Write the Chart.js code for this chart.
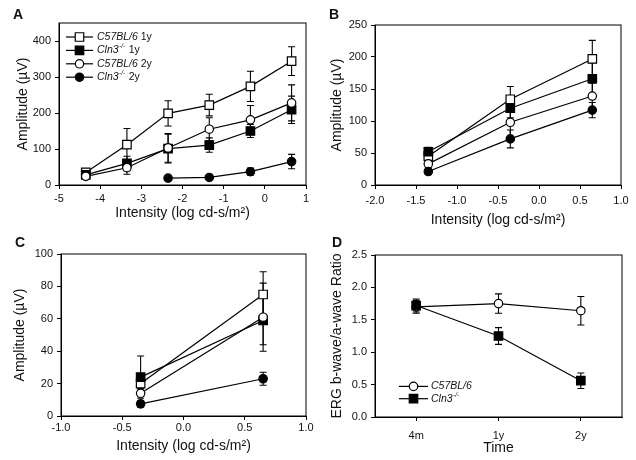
<!DOCTYPE html>
<html>
<head>
<meta charset="utf-8">
<script src="https://cdn.jsdelivr.net/npm/chart.js@4.4.0/dist/chart.umd.min.js"></script>
<style>
  body { margin: 0; background: #fff; }
  #wrap { position: relative; width: 636px; height: 460px; }
  .panel { position: absolute; width: 318px; height: 230px; }
  .tag { position: absolute; font: bold 14px "Liberation Sans", Arial, sans-serif; color: #111; }
</style>
</head>
<body>
<div id="wrap">
  <div class="panel" style="left:0;top:0"><canvas id="chartA" width="318" height="230"></canvas></div>
  <div class="panel" style="left:318px;top:0"><canvas id="chartB" width="318" height="230"></canvas></div>
  <div class="panel" style="left:0;top:230px"><canvas id="chartC" width="318" height="230"></canvas></div>
  <div class="panel" style="left:318px;top:230px"><canvas id="chartD" width="318" height="230"></canvas></div>
  <div class="tag" style="left:13px;top:6px">A</div>
  <div class="tag" style="left:329px;top:6px">B</div>
  <div class="tag" style="left:15px;top:234px">C</div>
  <div class="tag" style="left:332px;top:234px">D</div>
</div>
<script>
'use strict';

// ── Data ─────────────────────────────────────────────────────────────────────
// Panel A
const xA        = [-4.35, -3.35, -2.35, -1.35, -0.35, 0.65];
const wt1yA     = [35, 112, 199, 222, 274, 344];
const wt1yErrA  = [6, 45, 35, 30, 42, 40];
const ko1yA     = [28, 60, 101, 111, 150, 209];
const ko1yErrA  = [5, 20, 40, 20, 18, 38];
const wt2yA     = [24, 48, 103, 155, 181, 228];
const wt2yErrA  = [5, 18, 40, 32, 40, 50];
const ko2yA     = [null, null, 19, 21, 37, 65];
const ko2yErrA  = [0, 0, 4, 4, 10, 20];
const xTicksA   = [-5, -4, -3, -2, -1, 0, 1];
const yTicksA   = [0, 100, 200, 300, 400];

// Panel B
const xB        = [-1.35, -0.35, 0.65];
const wt1yB     = [45, 134, 197];
const wt1yErrB  = [8, 20, 29];
const ko1yB     = [52, 120, 166];
const ko1yErrB  = [7, 15, 25];
const wt2yB     = [33, 98, 139];
const wt2yErrB  = [6, 25, 20];
const ko2yB     = [21, 72, 117];
const ko2yErrB  = [4, 14, 12];
const xTicksB   = [-2.0, -1.5, -1.0, -0.5, 0.0, 0.5, 1.0];
const yTicksB   = [0, 50, 100, 150, 200, 250];

// Panel C
const xC        = [-0.35, 0.65];
const wt1yC     = [20, 75];
const wt1yErrC  = [3, 14];
const ko1yC     = [24, 59];
const ko1yErrC  = [13, 15];
const wt2yC     = [14, 61];
const wt2yErrC  = [2, 21];
const ko2yC     = [7.5, 23];
const ko2yErrC  = [2, 4];
const xTicksC   = [-1.0, -0.5, 0.0, 0.5, 1.0];
const yTicksC   = [0, 20, 40, 60, 80, 100];

// Panel D
const timeLabels = ['4m', '1y', '2y'];
const wtD        = [1.70, 1.75, 1.64];
const wtErrD     = [0.10, 0.15, 0.22];
const koD        = [1.72, 1.25, 0.56];
const koErrD     = [0.10, 0.13, 0.12];
const yTicksD    = [0.0, 0.5, 1.0, 1.5, 2.0, 2.5];

// ── Style ────────────────────────────────────────────────────────────────────
const FONT = '"Liberation Sans", Arial, sans-serif';
const INK  = '#111';

const MARKERS = {
  openSquare:   { pointStyle: 'rect',   pointRadius: 6,   pointBackgroundColor: '#fff' },
  filledSquare: { pointStyle: 'rect',   pointRadius: 6,   pointBackgroundColor: '#000' },
  openCircle:   { pointStyle: 'circle', pointRadius: 4.2, pointBackgroundColor: '#fff' },
  filledCircle: { pointStyle: 'circle', pointRadius: 4.2, pointBackgroundColor: '#000' },
};

let seriesCount = 0;   // later series sit on top, as in SigmaPlot

function series(xs, ys, errs, marker, strain, age) {
  const data = xs
    ? xs.map((x, i) => ({ x, y: ys[i] })).filter(p => p.y !== null)
    : ys;
  const errors = xs ? errs.filter((e, i) => ys[i] !== null) : errs;
  return Object.assign({
    label: strain + (age || ''),
    strain, age, marker,
    data, errors,
    order: 100 - (seriesCount++),
    borderColor: '#000',
    borderWidth: 1.2,
    pointBorderColor: '#000',
    pointBorderWidth: 1.2,
    pointHoverRadius: 0,
  }, MARKERS[marker]);
}

// ── Plugins ──────────────────────────────────────────────────────────────────

/** Vertical error bars with caps, drawn under the markers */
const errorBars = {
  id: 'errorBars',
  beforeDatasetsDraw(chart) {
    const { ctx } = chart;
    const yScale = chart.scales.y;
    ctx.save();
    ctx.strokeStyle = '#000';
    ctx.lineWidth = 1.1;
    chart.data.datasets.forEach((ds, i) => {
      const meta = chart.getDatasetMeta(i);
      meta.data.forEach((pt, j) => {
        const err = ds.errors && ds.errors[j];
        if (!err) return;
        const v  = typeof ds.data[j] === 'object' ? ds.data[j].y : ds.data[j];
        const y1 = yScale.getPixelForValue(v + err);
        const y2 = yScale.getPixelForValue(v - err);
        ctx.beginPath();
        ctx.moveTo(pt.x, y1); ctx.lineTo(pt.x, y2);
        ctx.moveTo(pt.x - 3.5, y1); ctx.lineTo(pt.x + 3.5, y1);
        ctx.moveTo(pt.x - 3.5, y2); ctx.lineTo(pt.x + 3.5, y2);
        ctx.stroke();
      });
    });
    ctx.restore();
  },
};

/** Closed frame round the plot area (SigmaPlot box) */
const frame = {
  id: 'frame',
  afterDraw(chart) {
    const { ctx, chartArea: a } = chart;
    ctx.save();
    ctx.strokeStyle = '#000';
    ctx.lineWidth = 1;
    ctx.strokeRect(a.left, a.top, a.right - a.left, a.bottom - a.top);
    ctx.restore();
  },
};

function drawMarker(ctx, marker, x, y) {
  const m = MARKERS[marker];
  ctx.beginPath();
  if (m.pointStyle === 'rect') {
    const h = m.pointRadius * Math.SQRT1_2;
    ctx.rect(x - h, y - h, 2 * h, 2 * h);
  } else {
    ctx.arc(x, y, m.pointRadius, 0, Math.PI * 2);
  }
  ctx.fillStyle = m.pointBackgroundColor;
  ctx.fill();
  ctx.stroke();
}

function drawStrain(ctx, x, y, strain, age) {
  ctx.fillStyle = INK;
  ctx.textBaseline = 'middle';
  ctx.font = 'italic 10.5px ' + FONT;
  ctx.fillText(strain, x, y);
  x += ctx.measureText(strain).width;
  if (strain === 'Cln3') {
    ctx.font = 'italic 6.5px ' + FONT;
    ctx.fillText('-/-', x + 0.5, y - 4);
    x += ctx.measureText('-/-').width + 1;
  }
  if (age) {
    ctx.font = '10.5px ' + FONT;
    ctx.fillText(age, x, y);
  }
}

/** Legend with italic strain names and superscripts */
const strainLegend = {
  id: 'strainLegend',
  afterDraw(chart, args, opts) {
    if (!opts || !opts.show) return;
    const { ctx, chartArea: a } = chart;
    ctx.save();
    ctx.strokeStyle = '#000';
    ctx.lineWidth = 1.2;
    chart.data.datasets.forEach((ds, i) => {
      const y  = opts.fromBottom ? a.bottom - opts.y + i * opts.gap : a.top + opts.y + i * opts.gap;
      const x0 = a.left + opts.x;
      const x1 = x0 + opts.len;
      ctx.beginPath();
      ctx.moveTo(x0, y); ctx.lineTo(x1, y);
      ctx.stroke();
      drawMarker(ctx, ds.marker, (x0 + x1) / 2, y);
      drawStrain(ctx, x1 + opts.textGap, y, ds.strain, ds.age);
    });
    ctx.restore();
  },
};

// ── Chart builder ────────────────────────────────────────────────────────────
function axisBase(title, titlePad, tickPad) {
  return {
    border:  { display: true, color: '#000', width: 1 },
    grid:    { display: true, drawOnChartArea: false, drawTicks: true, tickLength: 4, color: '#000' },
    ticks:   { color: INK, font: { family: FONT, size: 11 }, padding: tickPad },
    title:   { display: true, text: title, color: INK, font: { family: FONT, size: 14 }, padding: titlePad },
  };
}

function makePanel(id, cfg) {
  const xAxis = axisBase(cfg.xTitle, { top: 0, bottom: cfg.xTitlePad }, cfg.xTickPad);
  const yAxis = axisBase(cfg.yTitle, { top: cfg.yTitlePad, bottom: 0 }, 4);

  if (cfg.xLabels) {
    Object.assign(xAxis, { type: 'category', offset: true });
    xAxis.grid.offset = false;
  } else {
    Object.assign(xAxis, {
      type: 'linear', min: cfg.xTicks[0], max: cfg.xTicks[cfg.xTicks.length - 1],
      afterBuildTicks: s => { s.ticks = cfg.xTicks.map(v => ({ value: v })); },
    });
    xAxis.ticks.callback = v => cfg.xDigits ? v.toFixed(cfg.xDigits) : String(v);
  }
  xAxis.afterFit = s => { s.height = cfg.bottom; };

  Object.assign(yAxis, {
    type: 'linear', min: 0, max: cfg.yMax,
    afterBuildTicks: s => { s.ticks = cfg.yTicks.map(v => ({ value: v })); },
    afterFit: s => { s.width = cfg.left; },
  });
  yAxis.ticks.callback = v => cfg.yDigits ? v.toFixed(cfg.yDigits) : String(v);

  return new Chart(document.getElementById(id), {
    type: 'line',
    data: { labels: cfg.xLabels, datasets: cfg.datasets },
    options: {
      responsive: false,
      animation: false,
      layout: { padding: { top: cfg.top, right: cfg.right, left: 0, bottom: 0 } },
      scales: { x: xAxis, y: yAxis },
      plugins: {
        legend:  { display: false },
        tooltip: { enabled: false },
        strainLegend: cfg.legend || { show: false },
      },
    },
    plugins: [errorBars, frame, strainLegend],
  });
}

// ── Panels ───────────────────────────────────────────────────────────────────
const X_TITLE = 'Intensity (log cd-s/m\u00B2)';
const Y_TITLE = 'Amplitude (\u00B5V)';

makePanel('chartA', {
  left: 59, right: 12, top: 23, bottom: 45, yMax: 450,
  xTicks: xTicksA, yTicks: yTicksA,
  xTitle: X_TITLE, yTitle: Y_TITLE, xTitlePad: 8, yTitlePad: 15, xTickPad: 3,
  legend: { show: true, x: 7, y: 14, gap: 13.4, len: 27, textGap: 4 },
  datasets: [
    series(xA, wt1yA, wt1yErrA, 'openSquare',   'C57BL/6', ' 1y'),
    series(xA, ko1yA, ko1yErrA, 'filledSquare', 'Cln3',    ' 1y'),
    series(xA, wt2yA, wt2yErrA, 'openCircle',   'C57BL/6', ' 2y'),
    series(xA, ko2yA, ko2yErrA, 'filledCircle', 'Cln3',    ' 2y'),
  ],
});

makePanel('chartB', {
  left: 57, right: 15, top: 25, bottom: 45, yMax: 250,
  xTicks: xTicksB, yTicks: yTicksB, xDigits: 1,
  xTitle: X_TITLE, yTitle: Y_TITLE, xTitlePad: 1, yTitlePad: 11, xTickPad: 5,
  datasets: [
    series(xB, wt1yB, wt1yErrB, 'openSquare',   'C57BL/6', ' 1y'),
    series(xB, ko1yB, ko1yErrB, 'filledSquare', 'Cln3',    ' 1y'),
    series(xB, wt2yB, wt2yErrB, 'openCircle',   'C57BL/6', ' 2y'),
    series(xB, ko2yB, ko2yErrB, 'filledCircle', 'Cln3',    ' 2y'),
  ],
});

makePanel('chartC', {
  left: 61, right: 12, top: 24, bottom: 44, yMax: 100,
  xTicks: xTicksC, yTicks: yTicksC, xDigits: 1,
  xTitle: X_TITLE, yTitle: Y_TITLE, xTitlePad: 5, yTitlePad: 12, xTickPad: 1,
  datasets: [
    series(xC, wt1yC, wt1yErrC, 'openSquare',   'C57BL/6', ' 1y'),
    series(xC, ko1yC, ko1yErrC, 'filledSquare', 'Cln3',    ' 1y'),
    series(xC, wt2yC, wt2yErrC, 'openCircle',   'C57BL/6', ' 2y'),
    series(xC, ko2yC, ko2yErrC, 'filledCircle', 'Cln3',    ' 2y'),
  ],
});

makePanel('chartD', {
  left: 57, right: 14, top: 25, bottom: 43, yMax: 2.5,
  xLabels: timeLabels, yTicks: yTicksD, yDigits: 1,
  xTitle: 'Time', yTitle: 'ERG b-wave/a-wave Ratio', xTitlePad: 3, yTitlePad: 11, xTickPad: 8,
  legend: { show: true, fromBottom: true, x: 24, y: 30.6, gap: 12.3, len: 29, textGap: 3 },
  datasets: [
    series(null, wtD, wtErrD, 'openCircle',   'C57BL/6', ''),
    series(null, koD, koErrD, 'filledSquare', 'Cln3',    ''),
  ],
});
</script>
</body>
</html>
